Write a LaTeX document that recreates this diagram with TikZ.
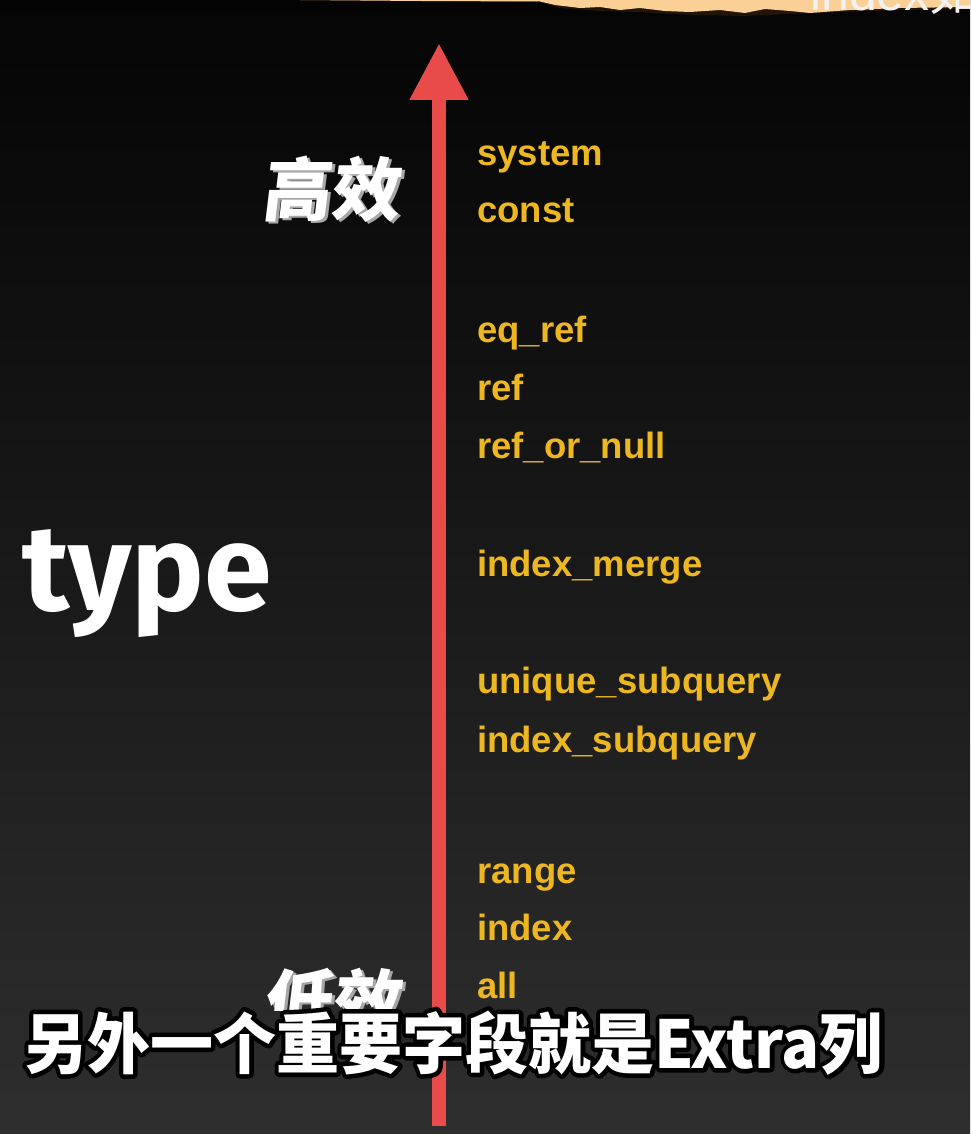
\documentclass[tikz,border=0pt]{standalone}
\usepackage{fontspec}
\usetikzlibrary{arrows.meta,calc}
\setmainfont{Liberation Sans}
\newfontfamily\lblfont{Liberation Sans}
\newfontfamily\typefont{Fira Sans}
\newfontfamily\cjkfont{Noto Sans CJK SC}
\newfontfamily\cjkslfont{Noto Sans CJK SC}[FakeSlant=0.12]
\definecolor{lblyellow}{RGB}{236,183,32}
\definecolor{arrowred}{RGB}{233,75,75}
\definecolor{paper}{RGB}{250,208,150}
\definecolor{paperedge}{RGB}{120,70,20}
\definecolor{bgtop}{RGB}{4,4,4}
\definecolor{bgbot}{RGB}{46,46,46}
\tikzset{
  lbl/.style={anchor=base west, inner sep=0pt, text=lblyellow,
    font=\lblfont\bfseries\fontsize{36.5}{40}\selectfont},
  bigcjk/.style={anchor=base west, inner sep=0pt,
    font=\cjkslfont\bfseries\fontsize{69}{74}\selectfont},
  subtxt/.style={anchor=base west, inner sep=0pt,
    font=\cjkfont\bfseries\fontsize{66}{72}\selectfont},
  mainarrow/.style={draw=arrowred, line width=14pt,
    -{Triangle[length=57pt,width=55pt]}, fill=arrowred}
}
\newcommand{\subline}{\scalebox{0.955}[1]{另外一个重要字段就是Extra列}}
\newcommand{\mystrokeon}{\special{pdf:literal direct 1 Tr 9 w 1 j 0 0 0 RG}}
\newcommand{\mystrokeoff}{\special{pdf:literal direct 0 Tr}}
\begin{document}
\begin{tikzpicture}[x=1pt,y=-1pt]
\useasboundingbox (0,0) rectangle (970,1134);
% background
\shade[top color=bgtop, bottom color=bgbot] (0,0) rectangle (970,1134);
% torn paper at top
\fill[paperedge, opacity=0.25] (300,0) -- (540,2) -- (560,8) -- (600,11) -- (640,12) -- (690,15) -- (745,16) -- (790,14) -- (840,12) -- (900,10) -- (970,9) -- (970,0) -- cycle;
\fill[paper] (300,0) -- (420,1) -- (540,1.5) -- (555,5) -- (580,8) -- (600,7) -- (620,10) -- (640,8) -- (665,11) -- (690,12) -- (720,10) -- (745,13) -- (765,9) -- (790,11) -- (810,13) -- (850,10) -- (900,8) -- (970,7) -- (970,0) -- cycle;
\node[anchor=base west, inner sep=0pt, text=white!90!gray, font=\lblfont\fontsize{50}{55}\selectfont] (idx) at (810,11) {index\cjkfont 如};
% arrow
\coordinate (abot) at (439,1126);
\coordinate (atop) at (439,43);
\draw[mainarrow] (abot) -- (atop);
% labels
\node[lbl] (l1) at (477,166) {system};
\node[lbl] (l2) at (477,222) {const};
\node[lbl] (l3) at (477,342) {eq\_ref};
\node[lbl] (l4) at (477,400) {ref};
\node[lbl] (l5) at (477,458) {ref\_or\_null};
\node[lbl] (l6) at (477,576) {index\_merge};
\node[lbl] (l7) at (477,693) {unique\_subquery};
\node[lbl] (l8) at (477,752) {index\_subquery};
\node[lbl] (l9) at (477,883) {range};
\node[lbl] (l10) at (477,940) {index};
\node[lbl] (l11) at (477,998) {all};
% type
\node[anchor=base west, inner sep=0pt, text=white, font=\typefont\bfseries\fontsize{122}{130}\selectfont] (type) at (22,610) {type};
% high efficiency
\node[bigcjk, text=gray!70] (hi2) at (264,217) {高效};
\node[bigcjk, text=white] (hi) at (261,215) {高效};
% low efficiency (partly hidden)
\begin{scope}
\clip (200,940) rectangle (470,1010);
\node[bigcjk, text=gray!70] (lo2) at (265,1029) {低效};
\node[bigcjk, text=white] (lo) at (262,1027) {低效};
\end{scope}
% subtitle with outline
\node[subtxt, text=white] (subo) at (24,1068) {\mystrokeon\subline\mystrokeoff};
\node[subtxt, text=white] (sub) at (24,1068) {\subline};
\end{tikzpicture}
\end{document}
